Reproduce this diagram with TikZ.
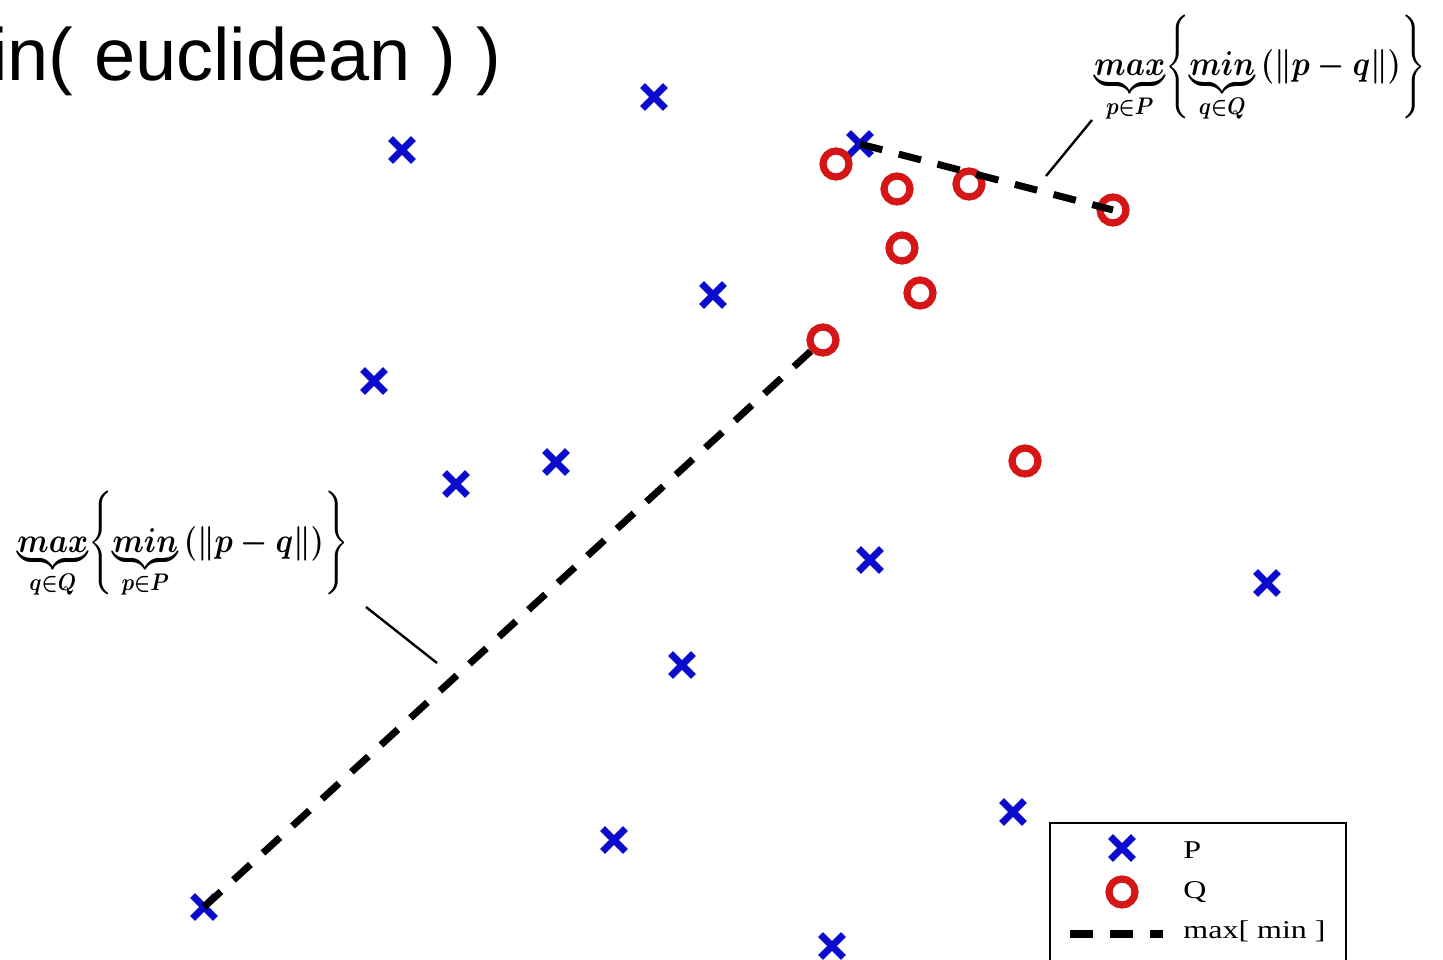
\documentclass[tikz,border=0pt]{standalone}
\usepackage{amsmath}
\usepackage{graphicx}
\usepackage{fontspec}
\setmainfont{Liberation Serif}
\setsansfont{Liberation Sans}
\usetikzlibrary{shapes.misc}
\definecolor{pblue}{RGB}{12,12,205}
\definecolor{qred}{RGB}{212,22,22}
\newcommand{\stretchx}[2]{\scalebox{#1}[1]{#2}}
\tikzset{
  pmark/.style={cross out, draw=pblue, line width=3.4pt, minimum size=8pt, inner sep=0pt},
  qmark/.style={circle, draw=qred, line width=3.6pt, minimum size=13pt, inner sep=0pt},
  maxmin/.style={line width=3.5pt, dash pattern=on 11.5pt off 8.5pt},
  leader/.style={line width=1.2pt},
  hdist/.style={font=\fontsize{17}{19}\selectfont\boldmath, inner sep=0pt, anchor=west},
  legtext/.style={font=\fontsize{12.8}{14}\selectfont, inner sep=0pt, anchor=base west},
}

\begin{document}
\begin{tikzpicture}[x=0.5pt, y=-0.5pt]
  \useasboundingbox (0,0) rectangle (1443,959);
  \clip (0,0) rectangle (1443,959);

  \node[font=\sffamily\fontsize{37}{40}\selectfont, anchor=base west, inner sep=0pt] (title) at (-9,80) {in( euclidean ) )};

  % points of P
  \foreach \n/\x/\y in {1/654/97, 2/402/150, 3/860/144, 4/713/295, 5/374/381,
                        6/456/484, 7/556/462, 8/870/560, 9/1267/583, 10/682/665,
                        11/1013/812, 12/614/840, 13/204/907, 14/832/946}
    \node[pmark] (p\n) at (\x,\y) {};

  % points of Q
  \foreach \n/\x/\y in {1/836/164, 2/897/189, 3/969/184, 4/1113/210,
                        5/902/248, 6/920/293, 7/823/340, 8/1025/461}
    \node[qmark] (q\n) at (\x,\y) {};

  % directed distances
  \draw[maxmin] (p13.center) -- (q7);
  \draw[maxmin] (p3.center) -- (q4.center);

  \node[hdist] (hPQ) at (1094,69)
    {\stretchx{0.88}{$\underbrace{max}_{p\in P}\!\left\{\underbrace{min}_{q\in Q}\,(\|p-q\|)\right\}$}};
  \node[hdist] (hQP) at (17,545)
    {\stretchx{0.88}{$\underbrace{max}_{q\in Q}\!\left\{\underbrace{min}_{p\in P}\,(\|p-q\|)\right\}$}};

  \coordinate (tipPQ) at (1046,176);
  \coordinate (tailPQ) at (1092,120);
  \coordinate (tipQP) at (437,663);
  \coordinate (tailQP) at (366,607);
  \draw[leader] (tipPQ) -- (tailPQ);
  \draw[leader] (tipQP) -- (tailQP);

  % legend
  \node[draw, line width=1pt, fill=white, anchor=north west, minimum width=148pt, minimum height=80pt] (legend) at (1049,822) {};
  \node[pmark] (legp) at (1122,848) {};
  \node[qmark] (legq) at (1122,892) {};
  \coordinate (legd1) at (1070,934);
  \coordinate (legd2) at (1163,934);
  \draw[maxmin, line width=4pt] (legd1) -- (legd2);
  \node[legtext] (legpt) at (1183,858) {\stretchx{1.25}{P}};
  \node[legtext] (legqt) at (1183,898) {\stretchx{1.25}{Q}};
  \node[legtext] (legmt) at (1183,938) {\stretchx{1.25}{max[ min ]}};
\end{tikzpicture}
\end{document}
